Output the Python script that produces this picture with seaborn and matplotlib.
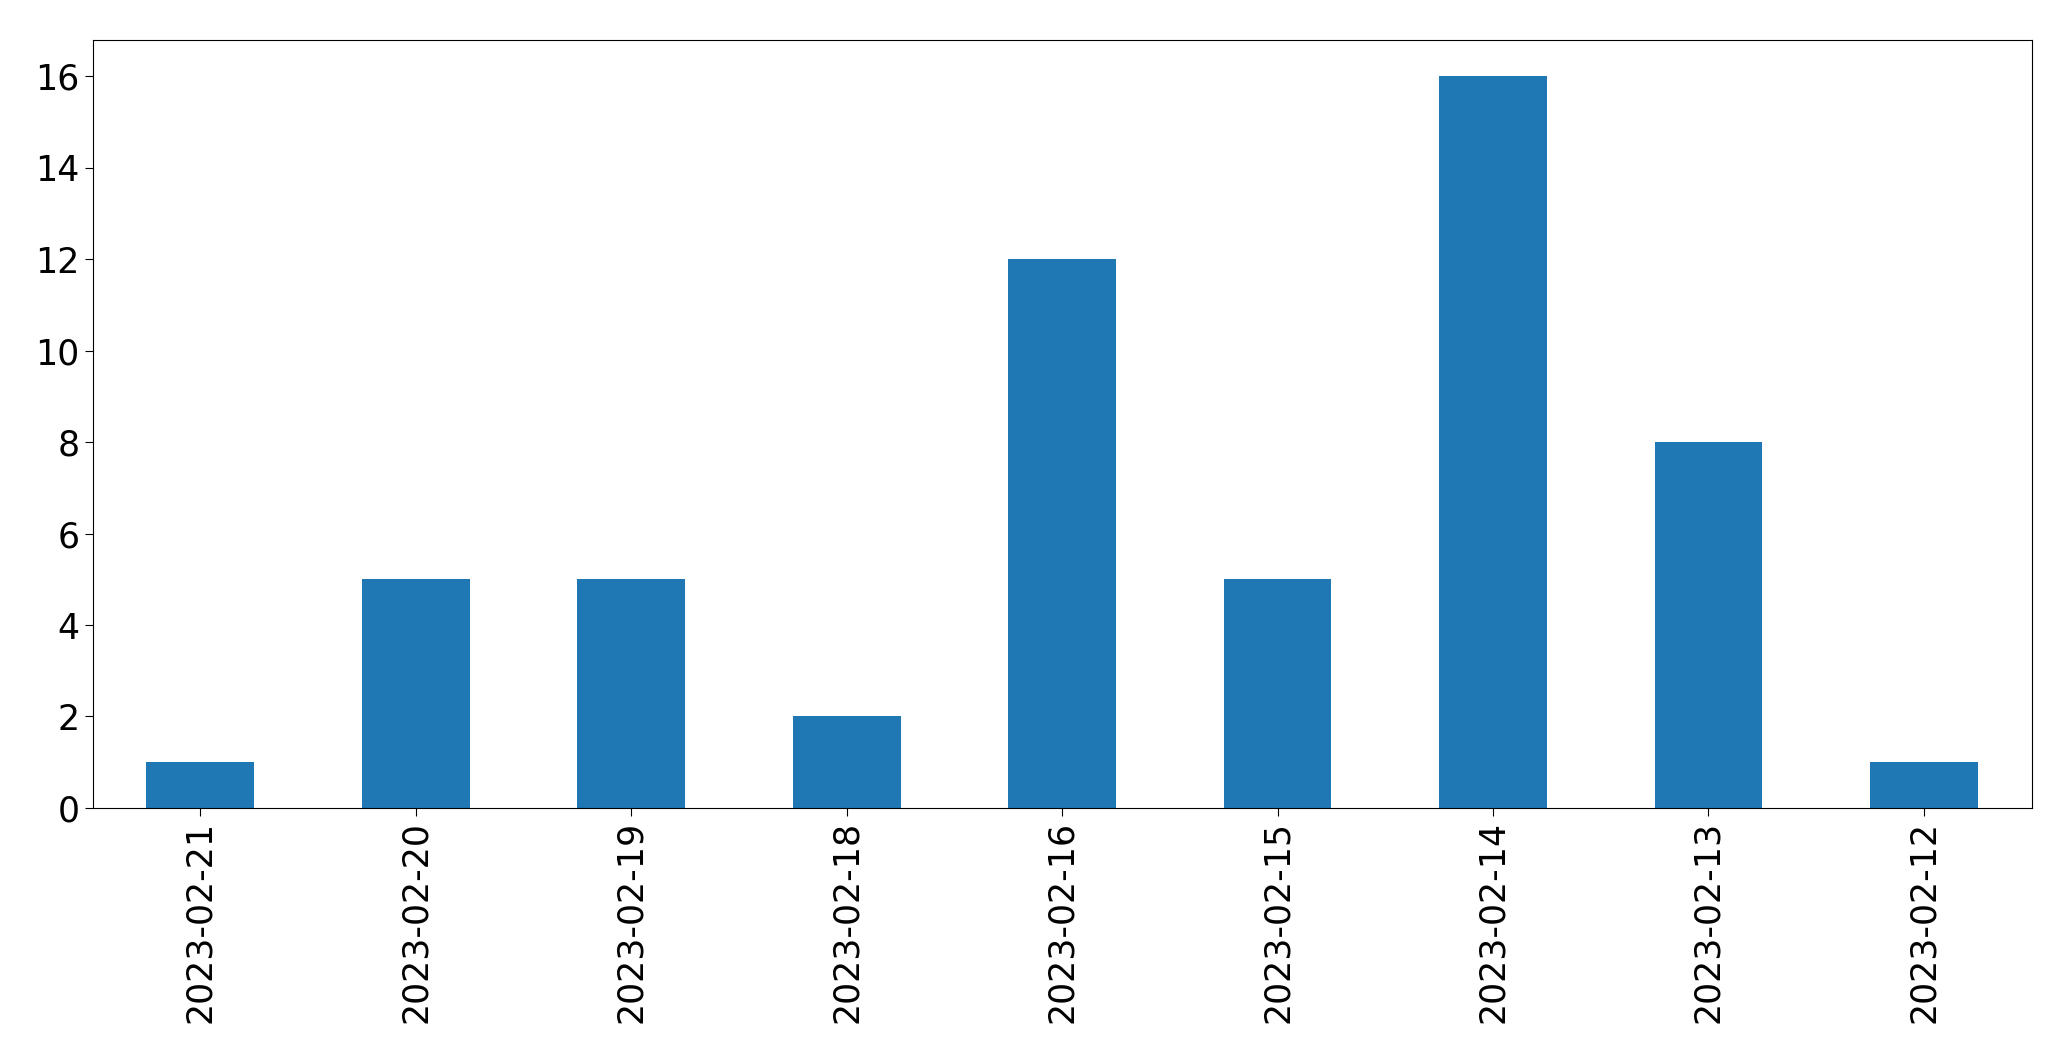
import matplotlib
matplotlib.use("Agg")
import matplotlib.pyplot as plt
import pandas as pd
import seaborn as sns

# Data
dates = ["2023-02-21", "2023-02-20", "2023-02-19", "2023-02-18", "2023-02-16",
         "2023-02-15", "2023-02-14", "2023-02-13", "2023-02-12"]
counts = [1, 5, 5, 2, 12, 5, 16, 8, 1]

df = pd.DataFrame({"date": dates, "count": counts})

fig = plt.figure(figsize=(20.71, 10.61), dpi=100)
ax = fig.add_axes([0.0447, 0.2385, 0.9363, 0.7242])

sns.barplot(data=df, x="date", y="count", order=dates, color="#1f77b4",
            saturation=1, width=0.5, ax=ax)

ax.set_xlabel("")
ax.set_ylabel("")
ax.set_xlim(-0.5, len(dates) - 0.5)
ax.set_ylim(0, 16.8)
ax.tick_params(axis="both", labelsize=25, length=6)
ax.tick_params(axis="x", labelrotation=90)

fig.savefig("out.png", dpi=100)
plt.close(fig)
